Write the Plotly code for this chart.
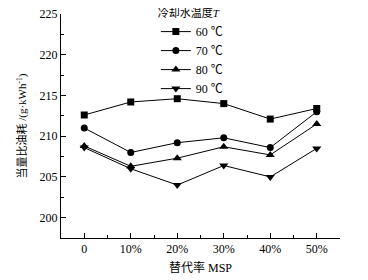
import plotly.graph_objects as go

x_pos = [0, 1, 2, 3, 4, 5]
x_labels = ["0", "10%", "20%", "30%", "40%", "50%"]
series_names = ["60 ℃", "70 ℃", "80 ℃", "90 ℃"]
t60 = [212.6, 214.2, 214.6, 214.0, 212.1, 213.4]
t70 = [211.0, 208.0, 209.2, 209.8, 208.6, 213.0]
t80 = [208.8, 206.3, 207.3, 208.7, 207.7, 211.5]
t90 = [208.6, 206.0, 204.0, 206.4, 205.0, 208.5]
symbols = ["square", "circle", "triangle-up", "triangle-down"]
sizes = [7, 7, 8, 8]

FONT = "Liberation Serif, Noto Sans CJK SC, serif"

fig = go.Figure()
for name, ys, sym, sz in zip(series_names, [t60, t70, t80, t90], symbols, sizes):
    fig.add_trace(go.Scatter(
        x=x_pos, y=ys, name=name, mode="lines+markers",
        line=dict(color="black", width=1),
        marker=dict(symbol=sym, size=sz, color="black"),
    ))

# page body has an 8px default margin, so the figure is sized/offset to compensate
fig.update_layout(
    width=360, height=272,
    margin=dict(l=53, r=28, t=6, b=42, autoexpand=False),
    paper_bgcolor="white", plot_bgcolor="white",
    font=dict(family=FONT, size=12, color="black"),
    showlegend=True,
    legend=dict(
        title=dict(text="冷却水温度<i>T</i>", side="top", font=dict(size=11)),
        x=0.34, y=1.05, xanchor="left", yanchor="top",
        font=dict(size=12), itemwidth=30, tracegroupgap=0,
        bgcolor="rgba(0,0,0,0)",
    ),
    xaxis=dict(
        range=[-0.5, 5.5], tickmode="array", tickvals=x_pos, ticktext=x_labels,
        showline=True, linecolor="black", linewidth=1, mirror=False, automargin=False,
        ticks="inside", ticklen=5, tickcolor="black", showgrid=False, zeroline=False,
        ticklabeloverflow="allow",
        minor=dict(ticks="inside", ticklen=3, tick0=0.5, dtick=1, tickcolor="black", showgrid=False),
        title=dict(text="替代率 MSP", font=dict(size=12), standoff=8),
    ),
    yaxis=dict(
        range=[197.5, 225], dtick=5, tick0=200, automargin=False,
        showline=True, linecolor="black", linewidth=1,
        ticks="inside", ticklen=5, tickcolor="black", showgrid=False, zeroline=False,
        ticklabeloverflow="allow",
        minor=dict(ticks="inside", ticklen=3, dtick=2.5, tick0=197.5, tickcolor="black", showgrid=False),
        title=dict(text="当量比油耗 /(g·kWh<sup>-1</sup>)", font=dict(size=11), standoff=10),
    ),
)

fig.write_html("out.html")
